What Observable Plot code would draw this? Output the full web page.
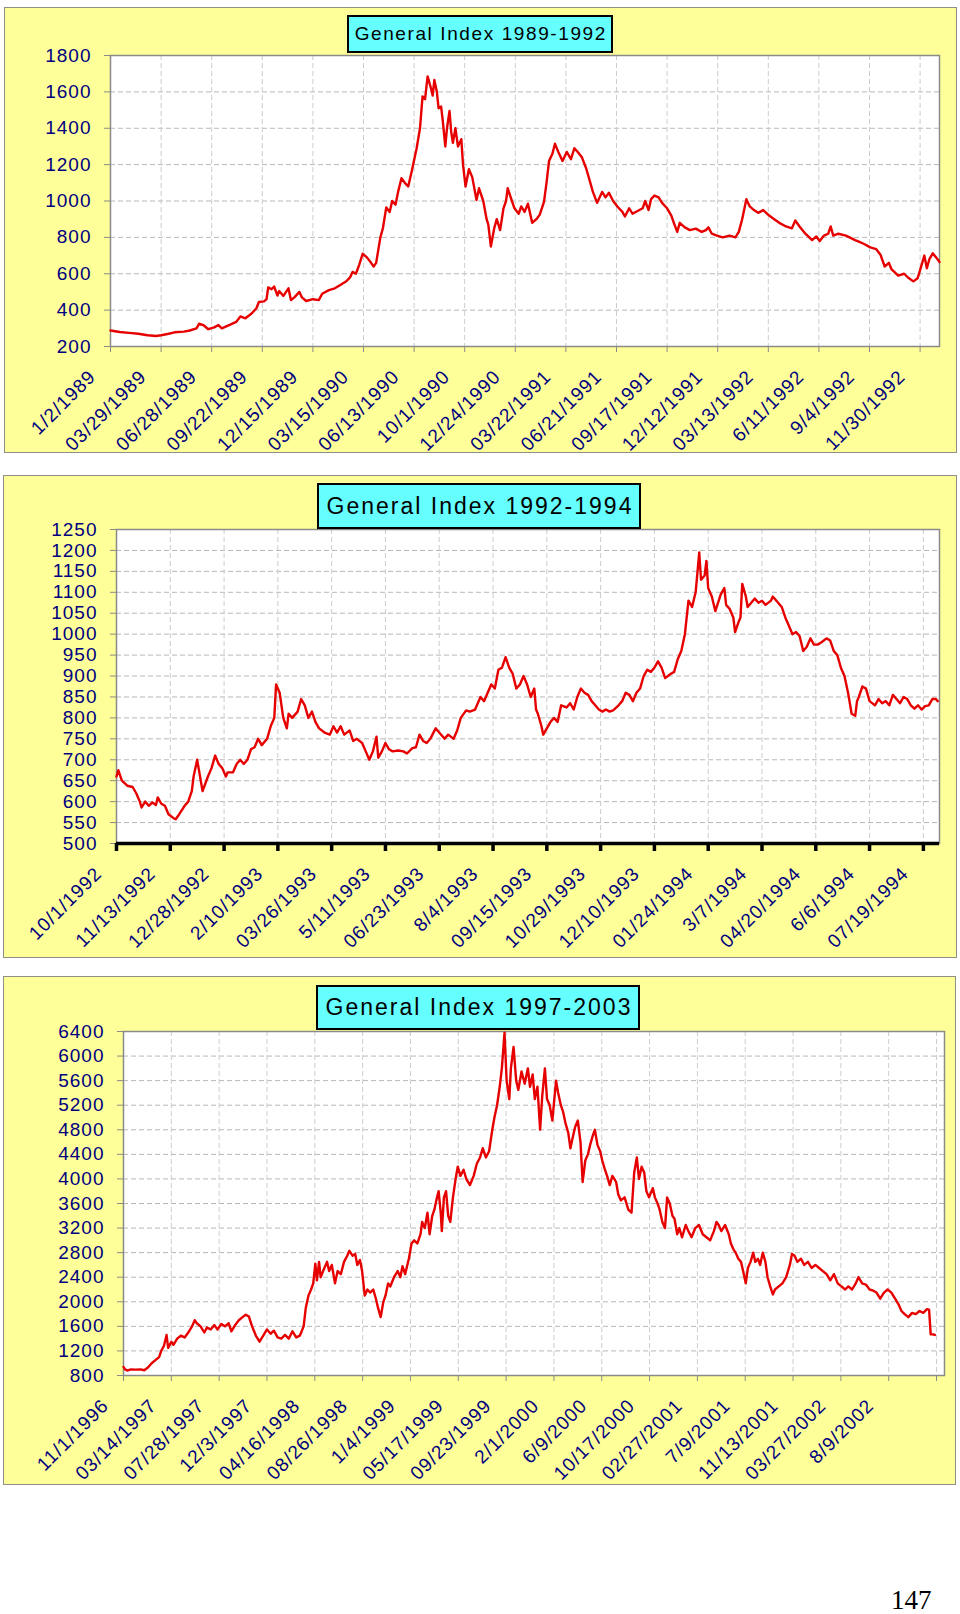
<!DOCTYPE html>
<html><head><meta charset="utf-8">
<script src="https://cdn.jsdelivr.net/npm/d3@7"></script>
<script src="https://cdn.jsdelivr.net/npm/@observablehq/plot@0.6"></script>
<style>
html,body{margin:0;padding:0;background:#fff;}
#page{position:relative;width:960px;height:1614px;overflow:hidden;font-family:"Liberation Sans",Arial,sans-serif;}
.panel{position:absolute;background:#ffff99;border:1.5px solid #8f8f85;box-sizing:border-box;}
.title{position:absolute;background:#66ffff;border:2px solid #000;box-sizing:border-box;color:#000;white-space:nowrap;display:flex;align-items:center;justify-content:center;font-family:"Liberation Sans",Arial,sans-serif;}
.chart{position:absolute;left:0;}
.chart svg text{letter-spacing:1px;}
#pageno{position:absolute;font-family:"Liberation Serif","Times New Roman",serif;font-size:27px;line-height:27px;}
</style></head><body><div id="page"></div>
<script>
// ---------- Panel 1: General Index 1989-1992 ----------
const title1 = "General Index 1989-1992";
const labels1 = ["1/2/1989","03/29/1989","06/28/1989","09/22/1989","12/15/1989","03/15/1990","06/13/1990","10/1/1990","12/24/1990","03/22/1991","06/21/1991","09/17/1991","12/12/1991","03/13/1992","6/11/1992","9/4/1992","11/30/1992"];
const yTicks1 = [200,400,600,800,1000,1200,1400,1600,1800];
const days1 = [0,11,22,33,44,54,60,69,76,87,94,102,105,110,116,123,128,132,142,149,154,160,167,173,176,182,185,187,191,194,198,200,205,211,214,218,224,227,232,240,247,251,259,266,273,280,284,287,291,295,299,304,309,312,315,320,323,327,331,334,338,341,345,349,353,357,363,367,370,373,376,380,382,384,387,389,392,394,397,399,402,404,406,409,412,416,418,421,425,429,434,437,442,446,448,451,455,458,462,466,469,471,476,479,484,487,491,495,500,505,509,514,517,520,524,527,531,536,541,546,550,554,559,564,569,572,577,583,587,591,596,601,607,610,615,619,625,631,634,638,641,645,650,654,660,665,668,672,675,681,687,694,701,706,709,713,719,726,734,741,745,749,754,758,763,768,774,781,787,793,801,808,812,817,824,832,837,841,846,851,854,857,863,872,883,888,893,901,908,913,918,923,926,934,941,946,952,957,960,965,968,971,975,979,983];
const vals1 = [288,280,275,270,262,258,262,270,278,282,288,300,325,318,295,305,318,300,320,335,365,355,380,410,445,448,460,525,515,530,480,505,478,520,455,470,500,470,450,460,455,490,510,520,540,560,580,610,600,650,710,690,660,640,660,800,850,965,940,1000,980,1050,1125,1100,1080,1160,1290,1400,1575,1560,1685,1620,1580,1665,1600,1510,1520,1440,1300,1400,1495,1380,1320,1400,1300,1340,1200,1080,1175,1130,1005,1070,1000,900,870,750,850,900,840,960,1000,1070,1000,960,930,970,940,985,880,900,925,995,1100,1220,1260,1315,1270,1220,1270,1230,1290,1270,1240,1180,1100,1050,990,1050,1020,1045,1000,970,940,915,960,930,945,960,1000,950,1010,1030,1020,990,960,920,880,830,880,855,840,848,830,840,855,820,810,800,810,800,830,900,1010,970,950,935,950,920,900,880,860,850,893,860,820,785,805,780,810,820,860,810,820,810,785,775,765,745,735,705,640,660,625,590,600,578,558,575,620,700,630,680,712,690,665];

// ---------- Panel 2: General Index 1992-1994 ----------
const title2 = "General Index 1992-1994";
const labels2 = ["10/1/1992","11/13/1992","12/28/1992","2/10/1993","03/26/1993","5/11/1993","06/23/1993","8/4/1993","09/15/1993","10/29/1993","12/10/1993","01/24/1994","3/7/1994","04/20/1994","6/6/1994","07/19/1994"];
const yTicks2 = [500,550,600,650,700,750,800,850,900,950,1000,1050,1100,1150,1200,1250];
const days2 = [0,1,3,6,9,11,13,14,16,18,20,22,23,25,27,29,32,33,35,38,40,42,43,45,47,48,51,53,55,57,59,61,62,65,67,69,71,73,75,77,79,81,84,86,88,89,91,93,95,96,98,101,103,105,107,109,111,113,116,119,121,123,125,127,130,132,134,137,139,141,143,145,146,148,150,152,154,157,160,162,165,167,169,171,173,175,178,180,183,185,188,190,192,195,197,200,203,205,207,209,211,213,215,217,219,221,223,225,227,229,231,233,234,235,237,238,240,242,244,246,248,251,253,255,257,259,261,263,265,267,269,271,273,275,277,280,282,284,286,288,290,292,294,296,298,300,302,304,306,309,311,313,315,317,319,321,323,325,326,328,329,330,332,334,337,339,340,342,344,345,347,348,349,351,352,354,356,358,360,362,365,366,369,371,373,375,377,379,381,383,385,387,389,391,393,396,398,400,402,404,406,408,410,412,413,414,416,418,420,423,425,427,429,431,433,435,437,439,441,443,445,447,449,451,453,455,457,458];
const vals2 = [660,675,650,638,635,620,600,586,600,590,598,592,610,595,590,570,560,558,570,590,600,625,660,700,650,625,660,680,710,690,680,660,670,670,690,700,690,700,725,730,750,735,750,780,800,880,860,800,775,810,800,815,845,830,800,815,790,775,765,760,780,765,780,760,770,745,750,740,720,700,720,755,705,720,740,725,720,722,720,715,728,730,760,745,740,750,775,765,750,760,750,770,800,818,815,820,850,840,860,880,870,915,920,945,920,905,870,880,900,880,850,870,820,810,780,760,775,790,800,790,830,825,835,820,850,870,860,855,840,830,820,815,820,815,818,830,840,860,855,840,860,870,900,915,910,920,935,920,895,905,910,940,960,1000,1080,1065,1100,1195,1130,1140,1175,1110,1090,1055,1095,1110,1070,1060,1040,1005,1030,1040,1120,1090,1065,1075,1085,1075,1080,1070,1080,1090,1075,1065,1040,1020,1000,1005,995,960,970,990,975,975,980,990,985,960,950,920,900,860,810,805,840,850,875,870,840,830,845,835,840,830,855,845,835,850,845,830,822,830,820,828,830,845,845,840];

// ---------- Panel 3: General Index 1997-2003 ----------
const title3 = "General Index 1997-2003";
const labels3 = ["11/1/1996","03/14/1997","07/28/1997","12/3/1997","04/16/1998","08/26/1998","1/4/1999","05/17/1999","09/23/1999","2/1/2000","6/9/2000","10/17/2000","02/27/2001","7/9/2001","11/13/2001","03/27/2002","8/9/2002"];
const yTicks3 = [800,1200,1600,2000,2400,2800,3200,3600,4000,4400,4800,5200,5600,6000,6400];
const days3 = [0,3,7,14,23,32,39,46,53,60,67,71,76,81,84,90,94,101,108,115,122,129,134,138,145,152,157,164,171,177,184,191,198,203,210,217,224,230,236,242,249,256,263,270,277,283,290,297,304,311,318,325,332,339,343,348,353,357,361,364,368,371,378,383,387,392,398,403,409,415,421,425,431,436,440,445,449,454,459,464,470,475,479,484,489,493,498,502,509,516,521,525,530,537,542,547,553,559,562,567,572,576,581,585,590,593,597,599,603,607,611,615,620,625,629,634,640,645,652,659,665,671,676,682,688,694,698,703,708,712,717,721,726,729,734,739,743,749,755,761,765,770,774,779,784,788,793,797,802,807,814,818,823,827,832,837,841,846,850,855,860,864,869,874,878,883,887,892,897,901,906,910,915,920,927,931,936,943,950,956,961,966,970,975,980,984,989,996,1000,1005,1009,1014,1019,1023,1028,1033,1037,1042,1046,1051,1058,1063,1069,1076,1083,1090,1097,1104,1111,1116,1120,1125,1132,1139,1143,1148,1152,1157,1162,1166,1171,1175,1180,1185,1189,1194,1198,1203,1208,1212,1217,1222,1226,1233,1240,1247,1254,1258,1263,1268,1275,1281,1288,1295,1302,1309,1316,1323,1330,1337,1344,1351,1358,1364,1371,1378,1383,1390,1397,1404,1411,1417,1424,1431,1438,1445,1452,1459,1464,1470,1477,1484,1491,1498,1505,1512,1516,1519,1523,1527];
const vals3 = [940,900,880,900,895,900,885,930,1000,1050,1100,1200,1280,1460,1250,1350,1300,1400,1450,1420,1500,1600,1700,1650,1600,1500,1580,1550,1620,1550,1640,1600,1650,1520,1620,1700,1750,1790,1760,1600,1450,1350,1450,1550,1480,1530,1420,1400,1460,1400,1520,1420,1450,1600,1900,2100,2200,2300,2620,2350,2650,2400,2550,2650,2500,2600,2300,2500,2450,2650,2750,2830,2750,2780,2600,2680,2500,2100,2200,2150,2200,2050,1900,1750,2000,2100,2300,2250,2400,2500,2400,2580,2450,2700,2950,3000,2950,3100,3300,3200,3450,3100,3400,3500,3700,3800,3450,3150,3700,3800,3400,3300,3700,4000,4200,4050,4150,4000,3900,4050,4250,4350,4500,4350,4450,4800,5000,5200,5500,5800,6380,5600,5300,5800,6150,5600,5450,5750,5550,5800,5500,5700,5300,5500,4800,5350,5800,5300,5200,4950,5600,5400,5200,5100,4900,4750,4500,4700,4850,4950,4600,3950,4300,4400,4550,4700,4800,4550,4450,4300,4150,4050,3900,4050,3950,3750,3650,3700,3500,3450,4100,4350,4000,4200,4100,3800,3700,3850,3700,3600,3500,3300,3200,3700,3600,3400,3350,3100,3200,3050,3250,3150,3050,3200,3250,3100,3050,3000,3150,3300,3250,3150,3250,3100,2950,2850,2800,2700,2650,2500,2300,2550,2650,2800,2650,2700,2600,2800,2650,2400,2250,2120,2200,2250,2300,2400,2600,2780,2750,2650,2700,2600,2650,2550,2600,2550,2500,2450,2350,2450,2300,2250,2200,2250,2200,2300,2400,2300,2280,2200,2180,2150,2050,2150,2200,2150,2050,1950,1850,1800,1750,1820,1800,1850,1820,1880,1870,1470,1470,1460];

const panels = [
  {box:[4,7,953,446], svgTop:0, h:460, mt:55, mb:114, ml:110, mr:21, xmax:983, step:60, nTicks:17,
   ydom:[200,1800], yTicks:yTicks1, labels:labels1, days:days1, vals:vals1, heavy:false,
   title:title1, tbox:[347,15,266,38], tfont:19, tspace:1.6},
  {box:[3,475,954,483], svgTop:470, h:500, mt:59, mb:127, ml:116, mr:21, xmax:459, step:30, nTicks:16,
   ydom:[500,1250], yTicks:yTicks2, labels:labels2, days:days2, vals:vals2, heavy:true,
   title:title2, tbox:[317,483,324,46], tfont:23, tspace:2},
  {box:[3,976,953,509], svgTop:970, h:530, mt:61, mb:125, ml:123, mr:16, xmax:1545, step:90, nTicks:18,
   ydom:[800,6400], yTicks:yTicks3, labels:labels3, days:days3, vals:vals3, heavy:false,
   title:title3, tbox:[316,985,324,45], tfont:23, tspace:2}
];

const page = document.getElementById("page");
const grey = "#8a8a8a";
const navy = "#000080";

for (const p of panels) {
  const box = document.createElement("div");
  box.className = "panel";
  Object.assign(box.style, {left:p.box[0]+"px", top:p.box[1]+"px", width:p.box[2]+"px", height:p.box[3]+"px"});
  page.appendChild(box);

  const xTicks = d3.range(p.nTicks).map(i => i * p.step);
  const data = p.days.map((d, i) => ({d, v: p.vals[i]}));
  const marks = [
    Plot.frame({fill:"white", stroke:null}),
    Plot.gridY({ticks:p.yTicks, stroke:"#b8b8b8", strokeOpacity:1, strokeDasharray:"5,3"}),
    Plot.gridX({ticks:xTicks, stroke:"#cccccc", strokeOpacity:1, strokeDasharray:"5,3"}),
    Plot.frame({stroke:grey, strokeWidth:1.5}),
    Plot.axisY({ticks:p.yTicks, tickSize:6, tickPadding:13, tickFormat:d => String(d),
      fill:navy, stroke:grey, fontSize:19, label:null})
  ];
  if (p.heavy) marks.push(Plot.ruleY([p.ydom[0]], {stroke:"#000", strokeWidth:3.5}));
  marks.push(
    Plot.axisX({ticks:xTicks, tickSize:p.heavy ? 8 : 6, tickFormat:() => "",
      stroke:p.heavy ? "#000" : grey, strokeWidth:p.heavy ? 3.5 : 1, label:null}),
    Plot.text(p.labels, {x:(d, i) => xTicks[i], text:d => d, frameAnchor:"bottom",
      rotate:-45, textAnchor:"end", lineAnchor:"middle", dx:-18, dy:27, fill:navy, fontSize:19}),
    Plot.line(data, {x:"d", y:"v", stroke:"#e60000", strokeWidth:2.4, strokeLinejoin:"round"})
  );
  const chart = Plot.plot({
    width:960, height:p.h,
    marginTop:p.mt, marginBottom:p.mb, marginLeft:p.ml, marginRight:p.mr,
    x:{domain:[0, p.xmax], axis:null, label:null},
    y:{domain:p.ydom, axis:null, label:null},
    style:{background:"none", fontFamily:'"Liberation Sans", Arial, sans-serif', fontSize:"19px", overflow:"visible"},
    marks
  });
  const wrap = document.createElement("div");
  wrap.className = "chart";
  wrap.style.top = p.svgTop + "px";
  wrap.appendChild(chart);
  page.appendChild(wrap);

  const t = document.createElement("div");
  t.className = "title";
  Object.assign(t.style, {left:p.tbox[0]+"px", top:p.tbox[1]+"px", width:p.tbox[2]+"px", height:p.tbox[3]+"px",
    fontSize:p.tfont+"px", letterSpacing:p.tspace+"px", paddingLeft:p.tspace+"px"});
  t.textContent = p.title;
  page.appendChild(t);
}

const pn = document.createElement("div");
pn.id = "pageno";
pn.style.left = "891px";
pn.style.top = "1587px";
pn.textContent = "147";
page.appendChild(pn);
</script>
</body></html>
